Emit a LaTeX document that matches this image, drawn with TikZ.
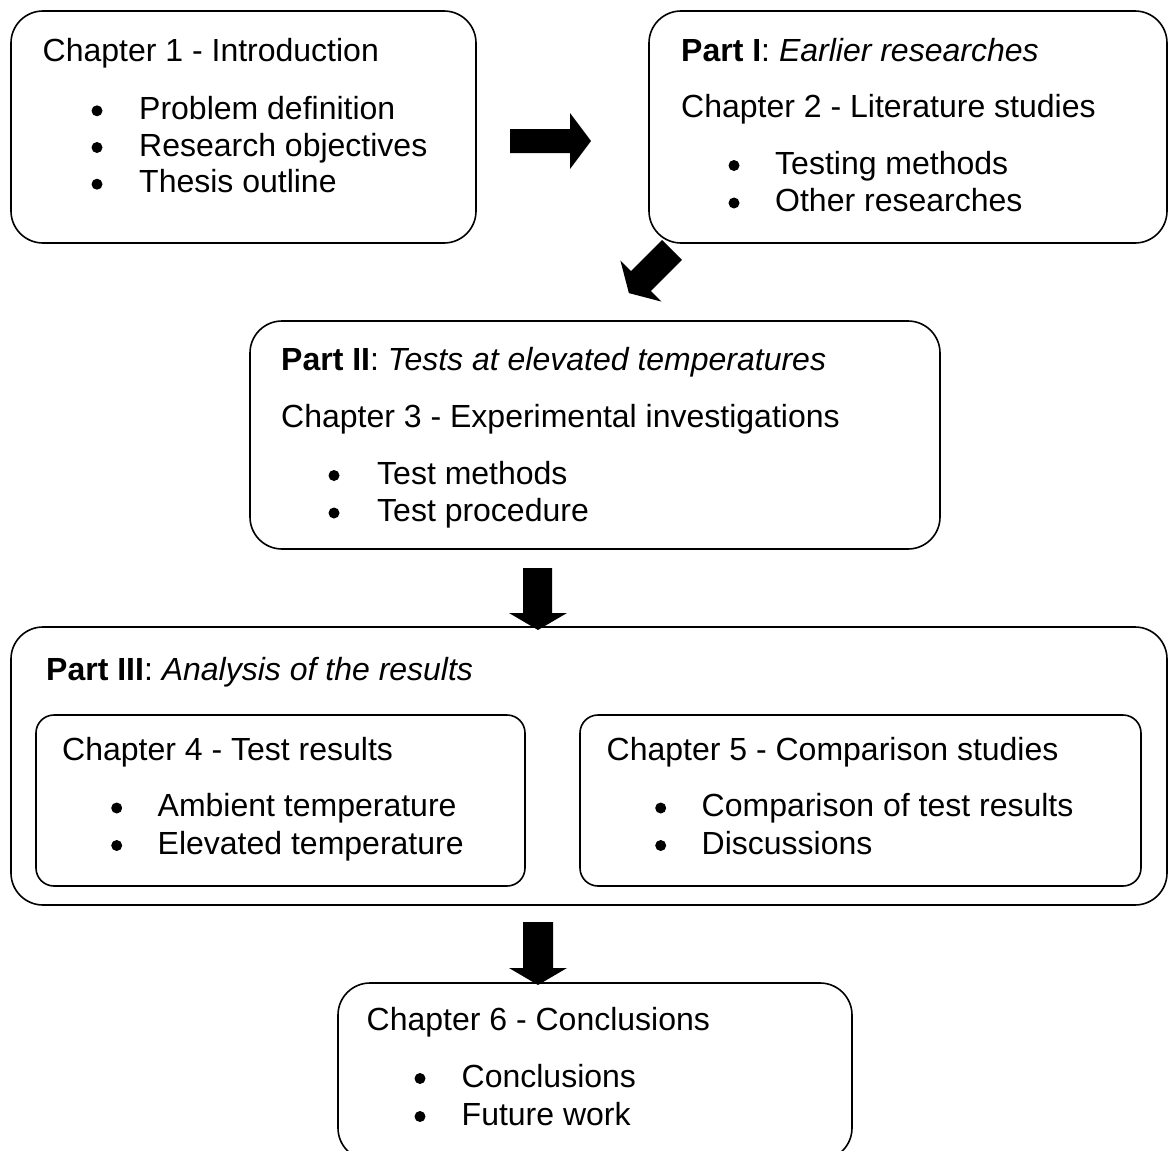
\documentclass[tikz,border=0pt]{standalone}
\usepackage{fontspec}
\setmainfont{Liberation Sans}
\begin{document}
\begin{tikzpicture}[x=1pt,y=-1pt,
  box/.style={draw, line width=1.6pt, rounded corners=32pt, anchor=north west, inner sep=0pt, outer sep=0pt},
  ibox/.style={draw, line width=1.6pt, rounded corners=18pt, anchor=north west, inner sep=0pt, outer sep=0pt},
  txt/.style={anchor=base west, inner sep=0pt, font=\fontsize{32}{38}\selectfont},
  bul/.style={circle, fill=black, draw=none, minimum size=11pt, inner sep=0pt, yshift=8.5pt},
  blk/.style={fill=black, draw=none}]
\useasboundingbox (0,0) rectangle (1171,1151);
\clip (0,0) rectangle (1171,1151);
% boxes
\node[box, minimum width=465pt, minimum height=232pt] (b1) at (11,11) {};
\node[box, minimum width=518pt, minimum height=232pt] (b2) at (649,11) {};
\node[box, minimum width=690pt, minimum height=228pt] (b3) at (250,321) {};
\node[box, minimum width=1156pt, minimum height=278pt] (b4) at (11,627) {};
\node[ibox, minimum width=489pt, minimum height=171pt] (b4a) at (36,715) {};
\node[ibox, minimum width=561pt, minimum height=171pt] (b4b) at (580,715) {};
\node[box, minimum width=514pt, minimum height=177pt] (b5) at (338,983) {};
% box 1
\node[txt] (t1) at (42.5,61.7) {Chapter 1 - Introduction};
\node[bul] (d11) at (97,119.3) {};
\node[txt] (t11) at (139,119.3) {Problem definition};
\node[bul] (d12) at (97,156) {};
\node[txt] (t12) at (139,156) {Research objectives};
\node[bul] (d13) at (97,192.7) {};
\node[txt] (t13) at (139,192.7) {Thesis outline};
% box 2
\node[txt] (p1) at (681,61.7) {\textbf{Part I}: \textit{Earlier researches}};
\node[txt] (t2) at (681,117.3) {Chapter 2 - Literature studies};
\node[bul] (d21) at (734,174) {};
\node[txt] (t21) at (775,174) {Testing methods};
\node[bul] (d22) at (734,211.5) {};
\node[txt] (t22) at (775,211.5) {Other researches};
% box 3
\node[txt] (p2) at (281,370.7) {\textbf{Part II}: \textit{Tests at elevated temperatures}};
\node[txt] (t3) at (281,427.3) {Chapter 3 - Experimental investigations};
\node[bul] (d31) at (334,484) {};
\node[txt] (t31) at (377,484) {Test methods};
\node[bul] (d32) at (334,521.5) {};
\node[txt] (t32) at (377,521.5) {Test procedure};
% box 4
\node[txt] (p3) at (46,680) {\textbf{Part III}: \textit{Analysis of the results}};
\node[txt] (t4) at (62,760.5) {Chapter 4 - Test results};
\node[bul] (d41) at (116.7,816.5) {};
\node[txt] (t41) at (157.5,816.5) {Ambient temperature};
\node[bul] (d42) at (116.7,854) {};
\node[txt] (t42) at (157.5,854) {Elevated temperature};
\node[txt] (t5) at (606.5,760.5) {Chapter 5 - Comparison studies};
\node[bul] (d51) at (660.7,816.5) {};
\node[txt] (t51) at (701.5,816.5) {Comparison of test results};
\node[bul] (d52) at (660.7,854) {};
\node[txt] (t52) at (701.5,854) {Discussions};
% box 5
\node[txt] (t6) at (366.5,1030) {Chapter 6 - Conclusions};
\node[bul] (d61) at (420,1087) {};
\node[txt] (t61) at (461.5,1087) {Conclusions};
\node[bul] (d62) at (420,1125) {};
\node[txt] (t62) at (461.5,1125) {Future work};
% block arrows
\fill[blk] (510,129) -- (570,129) -- (570,113) -- (591,141) -- (570,169) -- (570,153) -- (510,153) -- cycle;
\fill[blk] (662.1,240.1) -- (681.9,259.9) -- (650.8,291) -- (661.4,301.6) -- (628.9,293.1) -- (620.4,260.6) -- (631,271.2) -- cycle;
\fill[blk] (523,568) -- (552,568) -- (552,613) -- (567,613) -- (538,630) -- (509,613) -- (523,613) -- cycle;
\fill[blk] (523,922) -- (553,922) -- (553,968) -- (567,968) -- (538,985) -- (509,968) -- (523,968) -- cycle;
\end{tikzpicture}
\end{document}
